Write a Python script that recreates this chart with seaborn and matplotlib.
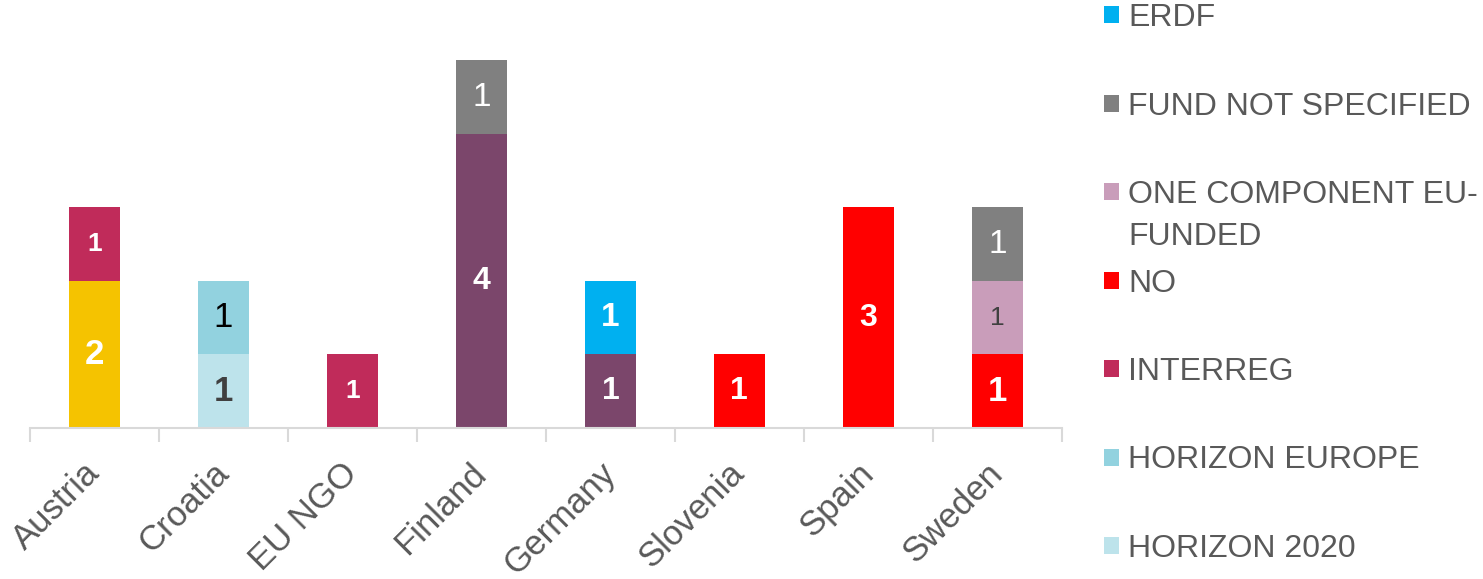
"""
Stacked bar chart: funding source of projects by country
"""

import numpy as np
import pandas as pd
import matplotlib
matplotlib.use('Agg')
import matplotlib.pyplot as plt
from matplotlib.patches import Patch
import seaborn as sns

sns.set_theme(style='white')
plt.rcParams['font.family'] = ['Liberation Sans', 'DejaVu Sans']

countries = ['Austria', 'Croatia', 'EU NGO', 'Finland', 'Germany', 'Slovenia', 'Spain', 'Sweden']

# series, bottom of the stack first (first two have no legend entry in the original)
unlabelled_yellow = [2, 0, 0, 0, 0, 0, 0, 0]
unlabelled_purple = [0, 0, 0, 4, 1, 0, 0, 0]
horizon_2020 = [0, 1, 0, 0, 0, 0, 0, 0]
horizon_europe = [0, 1, 0, 0, 0, 0, 0, 0]
interreg = [1, 0, 1, 0, 0, 0, 0, 0]
no_fund = [0, 0, 0, 0, 0, 1, 3, 1]
one_component = [0, 0, 0, 0, 0, 0, 0, 1]
fund_not_specified = [0, 0, 0, 1, 0, 0, 0, 1]
erdf = [0, 0, 0, 0, 1, 0, 0, 0]

series = {
    'UNLABELLED YELLOW': unlabelled_yellow,
    'UNLABELLED PURPLE': unlabelled_purple,
    'HORIZON 2020': horizon_2020,
    'HORIZON EUROPE': horizon_europe,
    'INTERREG': interreg,
    'NO': no_fund,
    'ONE COMPONENT EU-FUNDED': one_component,
    'FUND NOT SPECIFIED': fund_not_specified,
    'ERDF': erdf,
}

colors = {
    'UNLABELLED YELLOW': '#F5C300',
    'UNLABELLED PURPLE': '#7B466B',
    'HORIZON 2020': '#BDE3EB',
    'HORIZON EUROPE': '#92D2DF',
    'INTERREG': '#C02B5A',
    'NO': '#FF0000',
    'ONE COMPONENT EU-FUNDED': '#C99DBA',
    'FUND NOT SPECIFIED': '#808080',
    'ERDF': '#00B0F0',
}
legend_names = ['ERDF', 'FUND NOT SPECIFIED', 'ONE COMPONENT EU-FUNDED', 'NO',
                'INTERREG', 'HORIZON EUROPE', 'HORIZON 2020']

# label styling per segment (default white bold)
label_style = {
    ('Austria', 'UNLABELLED YELLOW'): dict(size=25),
    ('Austria', 'INTERREG'): dict(size=19),
    ('Croatia', 'HORIZON EUROPE'): dict(size=25, color='black', weight='normal'),
    ('Croatia', 'HORIZON 2020'): dict(size=25, color='#404040'),
    ('EU NGO', 'INTERREG'): dict(size=19),
    ('Finland', 'UNLABELLED PURPLE'): dict(size=23),
    ('Finland', 'FUND NOT SPECIFIED'): dict(size=24, weight='normal'),
    ('Germany', 'ERDF'): dict(size=24),
    ('Sweden', 'NO'): dict(size=25),
    ('Sweden', 'ONE COMPONENT EU-FUNDED'): dict(size=19, color='#404040', weight='normal'),
    ('Sweden', 'FUND NOT SPECIFIED'): dict(size=24, weight='normal'),
}

rows = []
for fund, vals in series.items():
    for c, v in zip(countries, vals):
        rows.append({'country': c, 'fund': fund, 'count': v})
df = pd.DataFrame(rows)

fig = plt.figure(figsize=(14.83, 5.79), dpi=100)
ax = fig.add_axes([0.0202, 0.2608, 0.6958, 0.7237])

# histplot stacks the last hue level at the bottom
hue_order = list(series.keys())[::-1]
sns.histplot(data=df, x='country', hue='fund', weights='count', multiple='stack',
             discrete=True, shrink=0.4, hue_order=hue_order, palette=colors,
             alpha=1, linewidth=0, legend=False, ax=ax)

# segment labels
bottom = np.zeros(len(countries))
for fund, vals in series.items():
    vals = np.array(vals, dtype=float)
    for i, v in enumerate(vals):
        if v > 0:
            st = dict(size=23, color='white', weight='bold')
            st.update(label_style.get((countries[i], fund), {}))
            ax.text(i, bottom[i] + v / 2, '{:g}'.format(v), ha='center', va='center',
                    fontsize=st['size'], color=st['color'], fontweight=st['weight'])
    bottom += vals

ax.set_xlim(-0.5, len(countries) - 0.5)
ax.set_ylim(0, 5.7)
ax.set_xlabel('')
ax.set_ylabel('')
ax.set_yticks([])
ax.set_xticks(range(len(countries)))
ax.set_xticklabels(countries, rotation=45, ha='right', va='center',
                   rotation_mode='anchor', fontsize=25, color='#595959')
ax.set_xticks(np.arange(-0.5, len(countries), 1), minor=True)
ax.tick_params(axis='x', which='major', length=0, pad=29)
ax.tick_params(axis='x', which='minor', length=10, width=1.5, color='#d9d9d9',
               direction='out', bottom=True)
for s in ['top', 'right', 'left']:
    ax.spines[s].set_visible(False)
ax.spines['bottom'].set_color('#d9d9d9')
ax.spines['bottom'].set_linewidth(1.5)

# legend: the wrapped entry keeps its marker on the first line, like the original
handles = [Patch(facecolor=colors[n], edgecolor='none') for n in legend_names]
labels = [n.replace(' EU-FUNDED', ' EU-') for n in legend_names]
leg = fig.legend(handles, labels, loc='upper left', bbox_to_anchor=(1101 / 1483, 1.0),
                 frameon=False, fontsize=23, labelspacing=1.83, handlelength=0.45,
                 handleheight=0.45, handletextpad=0.3, borderpad=0.1, borderaxespad=0)
for t in leg.get_texts():
    t.set_color('#595959')

fig.canvas.draw()
bb = leg.get_texts()[2].get_window_extent()
x0, y0 = fig.transFigure.inverted().transform((bb.x0, bb.y0 - 42))
fig.text(x0, y0, 'FUNDED', fontsize=23, color='#595959', ha='left', va='bottom')

fig.savefig('out.png', dpi=100)
